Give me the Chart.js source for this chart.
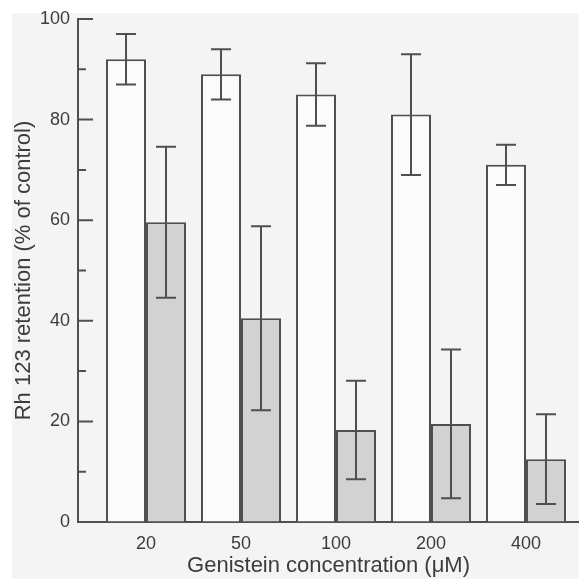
<!DOCTYPE html>
<html>
<head>
<meta charset="utf-8">
<script src="https://cdn.jsdelivr.net/npm/chart.js@4/dist/chart.umd.min.js"></script>
<style>
  html, body { margin: 0; padding: 0; background: #ffffff; }
  #wrap { position: relative; width: 579px; height: 579px; overflow: hidden; }
  #paper { position: absolute; left: 12px; top: 13px; right: 0; bottom: 0; background: #f4f4f4; }
  #chart { position: absolute; left: 0; top: 0; }
</style>
</head>
<body>
<div id="wrap">
  <div id="paper"></div>
  <canvas id="chart" width="579" height="579"></canvas>
</div>
<script>
// genistein concentrations (µM)
const categories = ["20", "50", "100", "200", "400"];
// open bars
const openValues = [92, 89, 85, 81, 71];
const openErrors = [5, 5, 6.2, 12, 4];
// shaded bars
const shadedValues = [59.6, 40.5, 18.3, 19.5, 12.5];
const shadedErrors = [15, 18.3, 9.8, 14.8, 8.9];
// y axis
const yTickLabels = [0, 20, 40, 60, 80, 100];
const yMinorTicks = [10, 30, 50, 70, 90];

const inkColor = "#4f4f4f";
const textColor = "#3c3c3c";

const toPoints = (vals) => vals.map((v, i) => ({ x: i, y: v }));

// error bars drawn from the bar elements + y scale
const errorBarPlugin = {
  id: "errorBars",
  afterDatasetsDraw(chart) {
    const { ctx } = chart;
    const yScale = chart.scales.y;
    ctx.save();
    ctx.strokeStyle = inkColor;
    ctx.lineWidth = 2;
    chart.data.datasets.forEach((ds, di) => {
      const meta = chart.getDatasetMeta(di);
      meta.data.forEach((bar, i) => {
        const v = ds.data[i].y;
        const err = ds.errors[i];
        const top = yScale.getPixelForValue(v + err);
        const bot = yScale.getPixelForValue(v - err);
        const x = bar.x;
        ctx.beginPath();
        ctx.moveTo(x, top); ctx.lineTo(x, bot);
        ctx.moveTo(x - 10, top); ctx.lineTo(x + 10, top);
        ctx.moveTo(x - 10, bot); ctx.lineTo(x + 10, bot);
        ctx.stroke();
      });
    });
    ctx.restore();
  },
};

// inward y ticks (long on labelled values, short in between)
const inwardTicksPlugin = {
  id: "inwardTicks",
  afterDraw(chart) {
    const { ctx } = chart;
    const yScale = chart.scales.y;
    const x0 = chart.chartArea.left;
    ctx.save();
    ctx.strokeStyle = inkColor;
    ctx.lineWidth = 2;
    ctx.beginPath();
    yTickLabels.forEach((v) => {
      const y = yScale.getPixelForValue(v);
      ctx.moveTo(x0, y); ctx.lineTo(x0 + 15, y);
    });
    yMinorTicks.forEach((v) => {
      const y = yScale.getPixelForValue(v);
      ctx.moveTo(x0, y); ctx.lineTo(x0 + 8, y);
    });
    ctx.stroke();
    ctx.restore();
  },
};

const ctx = document.getElementById("chart").getContext("2d");
new Chart(ctx, {
  type: "bar",
  data: {
    datasets: [
      {
        label: "open",
        data: toPoints(openValues),
        errors: openErrors,
        backgroundColor: "#fbfbfb",
        borderColor: inkColor,
        borderWidth: 2,
        borderSkipped: "bottom",
      },
      {
        label: "shaded",
        data: toPoints(shadedValues),
        errors: shadedErrors,
        backgroundColor: "#d2d2d2",
        borderColor: inkColor,
        borderWidth: 2,
        borderSkipped: "bottom",
      },
    ],
  },
  options: {
    responsive: false,
    animation: false,
    categoryPercentage: 0.842,
    barPercentage: 1.0,
    layout: { padding: { top: 19, right: 0, bottom: 0, left: 0 } },
    plugins: { legend: { display: false }, tooltip: { enabled: false } },
    scales: {
      x: {
        type: "linear",
        offset: false,
        min: -0.716,
        max: 4.558,
        afterBuildTicks(scale) {
          scale.ticks = categories.map((c, i) => ({ value: i }));
        },
        afterFit(scale) { scale.height = 57; },
        grid: { display: true, drawOnChartArea: false, drawTicks: false },
        border: { display: true, color: inkColor, width: 2 },
        ticks: {
          autoSkip: false,
          maxRotation: 0,
          padding: 11,
          color: textColor,
          font: { family: "'Liberation Sans', Arial, sans-serif", size: 18 },
          callback: (v) => categories[v],
        },
        title: {
          display: true,
          text: "Genistein concentration (μM)",
          color: textColor,
          padding: { top: 2, bottom: 0 },
          font: { family: "'Liberation Sans', Arial, sans-serif", size: 22 },
        },
      },
      y: {
        min: 0,
        max: 100,
        afterBuildTicks(scale) {
          scale.ticks = yTickLabels.map((v) => ({ value: v }));
        },
        afterFit(scale) { scale.width = 78; },
        grid: { display: true, drawOnChartArea: false, drawTicks: false },
        border: { display: true, color: inkColor, width: 2 },
        ticks: {
          padding: 8,
          color: textColor,
          font: { family: "'Liberation Sans', Arial, sans-serif", size: 18 },
        },
        title: {
          display: true,
          text: "Rh 123 retention (% of control)",
          color: textColor,
          padding: { top: 11, bottom: 0 },
          font: { family: "'Liberation Sans', Arial, sans-serif", size: 22 },
        },
      },
    },
  },
  plugins: [errorBarPlugin, inwardTicksPlugin],
});
</script>
</body>
</html>
